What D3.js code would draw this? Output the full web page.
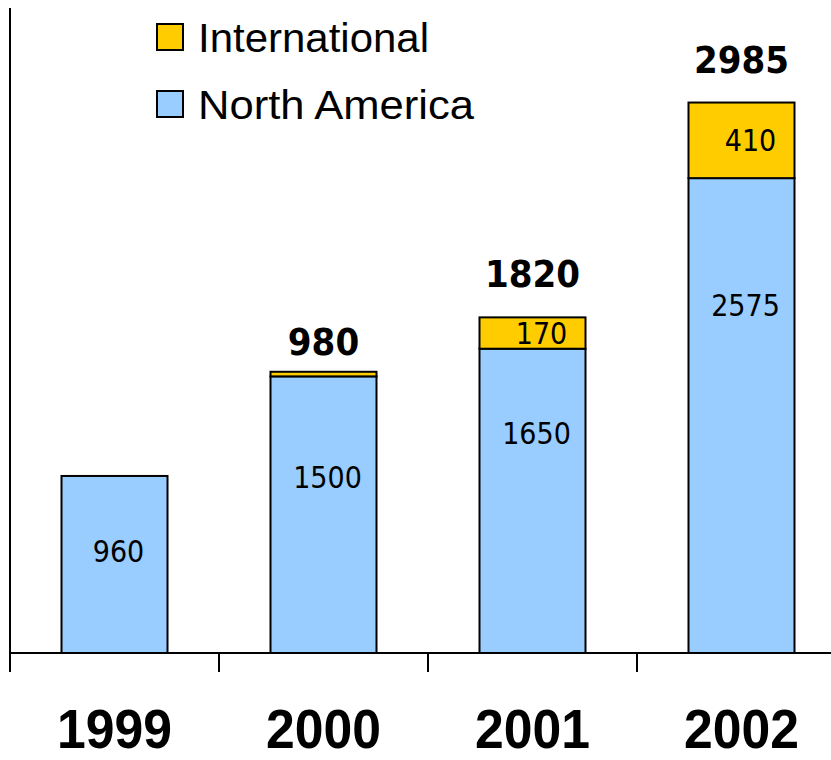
<!DOCTYPE html>
<html>
<head>
<meta charset="utf-8">
<script src="https://cdn.jsdelivr.net/npm/d3@7"></script>
<style>
  html, body { margin: 0; padding: 0; background: #fff; }
  svg { display: block; }
</style>
</head>
<body>
<svg id="chart" width="831" height="760"></svg>
<script>
// ---- data ----
const years = ["1999", "2000", "2001", "2002"];
const northAmerica = [960, 1500, 1650, 2575];
const international = [0, 25, 170, 410];
const totalLabels = ["", "980", "1820", "2985"];
const naLabels = ["960", "1500", "1650", "2575"];
const intlLabels = ["", "", "170", "410"];
// where the in-bar North America labels sit (value units)
const naLabelAt = [555, 957, 1192, 1887];
const seriesNames = ["International", "North America"];
const seriesColors = ["#FFCC00", "#99CCFF"];

// ---- layout ----
const svg = d3.select("#chart");
const baseY = 653;
const x = d3.scaleBand().domain(years).range([10, 846]).paddingInner(0).paddingOuter(0);
const y = d3.scaleLinear().domain([0, 3541]).range([baseY, 0]);
const barW = 106;
const cx = d => x(d) + x.bandwidth() / 2;

const rows = years.map((yr, i) => ({
  year: yr, na: northAmerica[i], intl: international[i],
  total: totalLabels[i], naLabel: naLabels[i], intlLabel: intlLabels[i], naAt: naLabelAt[i]
}));

const numFont = "'DejaVu Sans Condensed', 'DejaVu Sans', Tahoma, sans-serif";

// bars: North America
svg.append("g").selectAll("rect").data(rows).join("rect")
  .attr("x", d => cx(d.year) - barW / 2)
  .attr("y", d => y(d.na))
  .attr("width", barW)
  .attr("height", d => y(0) - y(d.na))
  .attr("fill", seriesColors[1])
  .attr("stroke", "#000").attr("stroke-width", 2);

// bars: International
svg.append("g").selectAll("rect").data(rows.filter(d => d.intl > 0)).join("rect")
  .attr("x", d => cx(d.year) - barW / 2)
  .attr("y", d => y(d.na + d.intl))
  .attr("width", barW)
  .attr("height", d => y(d.na) - y(d.na + d.intl))
  .attr("fill", seriesColors[0])
  .attr("stroke", "#000").attr("stroke-width", 2);

// x axis
const xAxis = d3.axisBottom(x).tickSize(19).tickFormat("");
const gx = svg.append("g").attr("transform", `translate(0,${baseY})`).call(xAxis);
gx.select(".domain").remove();
gx.selectAll(".tick").attr("transform", d => `translate(${x(d)},0)`);
gx.selectAll(".tick line").attr("stroke", "#000").attr("stroke-width", 2);
svg.append("line").attr("x1", 10).attr("x2", 831).attr("y1", baseY).attr("y2", baseY)
  .attr("stroke", "#000").attr("stroke-width", 2);
// y axis line
svg.append("line").attr("x1", 10).attr("x2", 10).attr("y1", 8).attr("y2", baseY)
  .attr("stroke", "#000").attr("stroke-width", 2);

// year labels
svg.append("g").selectAll("text").data(years).join("text")
  .attr("x", d => cx(d)).attr("y", 748)
  .attr("text-anchor", "middle")
  .attr("font-family", "'Liberation Sans', Arial, sans-serif")
  .attr("font-weight", "bold").attr("font-size", 56)
  .attr("textLength", 115).attr("lengthAdjust", "spacingAndGlyphs")
  .text(d => d);

// in-bar North America labels
svg.append("g").selectAll("text").data(rows).join("text")
  .attr("x", d => cx(d.year) + 4)
  .attr("y", d => y(d.naAt) + 11)
  .attr("text-anchor", "middle")
  .attr("font-family", numFont).attr("font-size", 30).attr("fill", "#000")
  .text(d => d.naLabel);

// in-bar International labels
svg.append("g").selectAll("text").data(rows.filter(d => d.intlLabel)).join("text")
  .attr("x", d => cx(d.year) + 9)
  .attr("y", d => (y(d.na) + y(d.na + d.intl)) / 2 + 11)
  .attr("text-anchor", "middle")
  .attr("font-family", numFont).attr("font-size", 30).attr("fill", "#000")
  .text(d => d.intlLabel);

// totals
svg.append("g").selectAll("text").data(rows.filter(d => d.total)).join("text")
  .attr("x", d => cx(d.year))
  .attr("y", d => y(d.na + d.intl) - (d.intl < 50 ? 17 : 30))
  .attr("text-anchor", "middle")
  .attr("font-family", numFont).attr("font-weight", "bold").attr("font-size", 38)
  .attr("fill", "#000")
  .text(d => d.total);

// legend
const legend = svg.append("g");
const legendWidths = [231, 276];
seriesNames.forEach((name, i) => {
  const ly = 24 + i * 67;
  legend.append("rect").attr("x", 157).attr("y", ly).attr("width", 26).attr("height", 26)
    .attr("fill", seriesColors[i]).attr("stroke", "#000").attr("stroke-width", 2);
  legend.append("text").attr("x", 198).attr("y", ly + 28)
    .attr("font-family", "'Liberation Sans', Arial, sans-serif").attr("font-size", 41)
    .attr("textLength", legendWidths[i]).attr("lengthAdjust", "spacingAndGlyphs")
    .text(name);
});
</script>
</body>
</html>
